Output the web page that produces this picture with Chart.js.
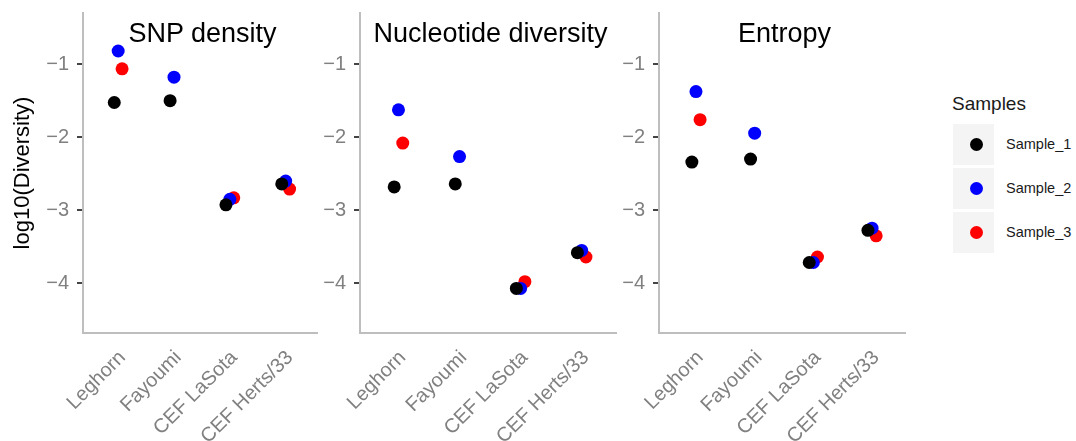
<!DOCTYPE html>
<html>
<head>
<meta charset="utf-8">
<script src="https://cdn.jsdelivr.net/npm/chart.js@4.4.1/dist/chart.umd.min.js"></script>
<style>
  body { margin: 0; background: #fff; font-family: "Liberation Sans", Arial, sans-serif; }
  #wrap { position: relative; width: 1076px; height: 441px; overflow: hidden; }
  canvas { position: absolute; top: 0; }
  .ptitle { position: absolute; top: 18px; width: 300px; text-align: center; font-size: 27px; line-height: 30px; color: #000; }
  #legend { position: absolute; left: 952px; top: 92px; }
  #legend .ttl { font-size: 19px; line-height: 24px; color: #1a1a1a; margin-bottom: 8px; }
  #legend .row { position: relative; height: 44px; }
  #legend .key { position: absolute; left: 1px; top: 0; width: 41px; height: 41px; background: #f4f4f4; }
  #legend .dot { position: absolute; left: 17px; top: 14px; width: 13px; height: 13px; border-radius: 50%; }
  #legend .lab { position: absolute; left: 54px; top: 11px; font-size: 14.5px; line-height: 18px; color: #1a1a1a; }
</style>
</head>
<body>
<div id="wrap"></div>
<script>
const categories = ['Leghorn', 'Fayoumi', 'CEF LaSota', 'CEF Herts/33'];
const panelTitles = ['SNP density', 'Nucleotide diversity', 'Entropy'];
const sampleNames = ['Sample_1', 'Sample_2', 'Sample_3'];
const sampleColors = ['#000000', '#0000ff', '#ff0000'];
const yTicks = [-4, -3, -2, -1];

// log10 values per sample, in category order
const snpDensity = [
  [-1.525, -1.50, -2.925, -2.64],
  [-0.82, -1.178, -2.85, -2.60],
  [-1.064, null, -2.83, -2.71]
];
const nucleotideDiversity = [
  [-2.68, -2.64, -4.07, -3.58],
  [-1.625, -2.265, -4.07, -3.55],
  [-2.08, null, -3.977, -3.64]
];
const entropy = [
  [-2.34, -2.30, -3.715, -3.275],
  [-1.375, -1.945, -3.715, -3.245],
  [-1.76, null, -3.64, -3.35]
];
const panelData = [snpDensity, nucleotideDiversity, entropy];

// dodge offsets per sample (category units)
const dodge = [-0.04, 0.03, 0.10];

// plot area left / right edges for the three panels
const panelLeft = [83, 360, 659];
const panelRight = [322, 621, 910];
const axisW = 83;

const wrap = document.getElementById('wrap');
const font = '"Liberation Sans", Arial, sans-serif';

panelData.forEach((series, p) => {
  const cv = document.createElement('canvas');
  const left = panelLeft[p] - axisW;
  const w = panelRight[p] - left + 2;
  cv.width = w; cv.height = 441;
  cv.style.left = left + 'px';
  cv.style.width = w + 'px'; cv.style.height = '441px';
  wrap.appendChild(cv);

  const t = document.createElement('div');
  t.className = 'ptitle';
  t.textContent = panelTitles[p];
  t.style.left = ((panelLeft[p] + panelRight[p]) / 2 - 150) + 'px';
  wrap.appendChild(t);

  const datasets = series.map((vals, s) => ({
    label: sampleNames[s],
    data: vals.map((v, i) => v === null ? null : { x: i + 1 + dodge[s], y: v }).filter(d => d),
    backgroundColor: sampleColors[s],
    borderWidth: 0,
    pointRadius: 6.5,
    pointHoverRadius: 6.5
  }));

  new Chart(cv, {
    type: 'scatter',
    data: { datasets },
    options: {
      responsive: false,
      animation: false,
      events: [],
      layout: { padding: { top: 13, right: 2, left: 0, bottom: 0 } },
      plugins: { legend: { display: false }, tooltip: { enabled: false } },
      scales: {
        x: {
          type: 'linear',
          min: 0.4, max: 4.6,
          afterBuildTicks: s => { s.ticks = categories.map((c, i) => ({ value: i + 1 })); },
          afterFit: s => { s.height = 441 - 333; s.paddingLeft = 0; s.paddingRight = 0; },
          grid: { display: false, drawTicks: false },
          border: { display: true, color: '#bebebe', width: 2 },
          ticks: {
            autoSkip: false,
            minRotation: 45, maxRotation: 45,
            padding: 13,
            labelOffset: 6,
            color: '#808080',
            font: { family: font, size: 20 },
            callback: v => categories[Math.round(v) - 1]
          }
        },
        y: {
          type: 'linear',
          min: -4.68, max: -0.3,
          afterBuildTicks: s => { s.ticks = yTicks.map(v => ({ value: v })); },
          afterFit: s => { s.width = axisW; s.paddingTop = 0; s.paddingBottom = 0; },
          grid: { drawOnChartArea: false, drawTicks: true, tickLength: 6, color: '#444', lineWidth: 2 },
          border: { display: true, color: '#bebebe', width: 2 },
          ticks: {
            padding: 8,
            color: '#808080',
            font: { family: font, size: 20 },
            callback: v => '\u2212' + Math.abs(v)
          },
          title: {
            display: p === 0,
            text: 'log10(Diversity)',
            color: '#000',
            font: { family: font, size: 22 },
            padding: { top: 10, bottom: 0 }
          }
        }
      }
    }
  });
});

// legend
const lg = document.createElement('div');
lg.id = 'legend';
let html = '<div class="ttl">Samples</div>';
sampleNames.forEach((n, i) => {
  html += '<div class="row"><div class="key"><div class="dot" style="background:' + sampleColors[i] + '"></div></div><div class="lab">' + n + '</div></div>';
});
lg.innerHTML = html;
wrap.appendChild(lg);
</script>
</body>
</html>
